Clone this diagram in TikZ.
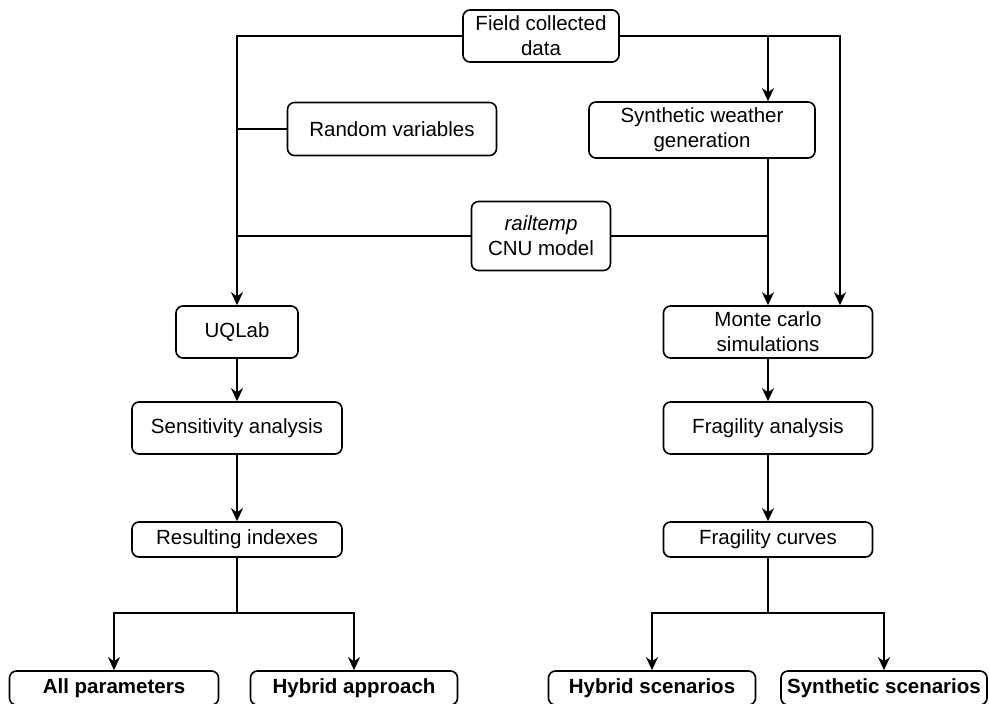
\documentclass[tikz,border=0pt]{standalone}
\usepackage{fontspec}
\setmainfont{Liberation Sans}
\usetikzlibrary{arrows.meta}

\begin{document}
\begin{tikzpicture}[x=1pt,y=-1pt,
    box/.style={draw,line width=1.6pt,rounded corners=7pt,inner sep=0pt,align=center,
        font=\fontsize{20.5}{25}\selectfont},
    endbox/.style={box,font=\fontsize{20.5}{25}\selectfont\bfseries},
    arr/.style={-{Stealth[length=13pt,width=12pt,inset=4pt]}},
    line width=1.6pt]
    \useasboundingbox (0,0) rectangle (989,704);

    % Disegna i nodi della parte alta
    \node[box,minimum width=156pt,minimum height=52pt] (field) at (541,36) {Field collected\\data};
    \node[box,minimum width=209pt,minimum height=53pt] (rand) at (392,129) {Random variables};
    \node[box,minimum width=226pt,minimum height=56pt] (synth) at (702,130) {Synthetic weather\\generation};
    \node[box,minimum width=139pt,minimum height=69pt] (rail) at (541,236) {\textit{railtemp}\\CNU model};

    % Disegna la colonna di sinistra
    \node[box,minimum width=122pt,minimum height=52pt] (uqlab) at (237,332) {UQLab};
    \node[box,minimum width=210pt,minimum height=52pt] (sens) at (237,428) {Sensitivity analysis};
    \node[box,minimum width=210pt,minimum height=35pt] (res) at (237,539.5) {Resulting indexes};

    % Disegna la colonna di destra
    \node[box,minimum width=209pt,minimum height=52pt] (monte) at (768,332) {Monte carlo\\simulations};
    \node[box,minimum width=209pt,minimum height=52pt] (fraga) at (768,428) {Fragility analysis};
    \node[box,minimum width=209pt,minimum height=35pt] (fragc) at (768,539.5) {Fragility curves};

    % Disegna i risultati finali
    \node[endbox,minimum width=209pt,minimum height=34pt] (allp) at (114,688) {All parameters};
    \node[endbox,minimum width=207pt,minimum height=34pt] (hyba) at (354,688) {Hybrid approach};
    \node[endbox,minimum width=207pt,minimum height=34pt] (hybs) at (652,688) {Hybrid scenarios};
    \node[endbox,minimum width=206pt,minimum height=34pt] (syns) at (884,688) {Synthetic scenarios};

    % Disegna i collegamenti in alto
    \draw[arr] (field.west) -| (uqlab.north);
    \draw[arr] (field.east) -| ([xshift=72pt]monte.north);
    \draw[arr] (field.east -| monte.north) -- (synth.north -| monte.north);
    \draw (rand.west) -- (rand.west -| uqlab.north);
    \draw (rail.west) -- (rail.west -| uqlab.north);
    \draw (rail.east) -- (rail.east -| monte.north);
    \draw[arr] (synth.south -| monte.north) -- (monte.north);

    % Disegna le frecce nelle colonne
    \draw[arr] (uqlab) -- (sens);
    \draw[arr] (sens) -- (res);
    \draw[arr] (monte) -- (fraga);
    \draw[arr] (fraga) -- (fragc);

    % Disegna le diramazioni in basso
    \coordinate (resj) at (237,613);
    \coordinate (fragj) at (768,613);
    \draw[arr] (res.south) -- (resj) -| (allp.north);
    \draw[arr] (resj) -| (hyba.north);
    \draw[arr] (fragc.south) -- (fragj) -| (hybs.north);
    \draw[arr] (fragj) -| (syns.north);

\end{tikzpicture}
\end{document}
